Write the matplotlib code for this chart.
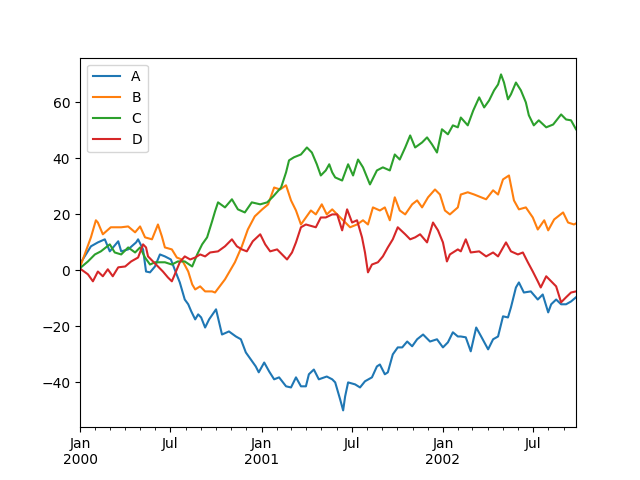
import numpy as np
import pandas as pd
import matplotlib
matplotlib.use('Agg')
import matplotlib.pyplot as plt
import matplotlib.dates as mdates

start = pd.Timestamp('2000-01-01')
end = start + pd.Timedelta(days=999)

# values, days counted from 2000-01-01
a_days = [0, 2, 22, 36, 50, 60, 77, 83, 97, 113, 117, 127, 133, 141, 151, 161, 171, 183, 193, 201,
          211, 218, 224, 232, 238, 244, 252, 260, 274, 286, 300, 314, 324, 334, 344, 354, 360, 371,
          381, 391, 401, 415, 425, 435, 445, 455, 461, 471, 481, 497, 508, 514, 524, 530, 534, 540,
          554, 564, 574, 588, 598, 604, 614, 620, 630, 640, 649, 659, 669, 679, 691, 705, 719, 731,
          741, 751, 761, 767, 777, 787, 798, 808, 822, 832, 842, 852, 862, 868, 878, 884, 894, 908,
          922, 932, 943, 949, 959, 969, 979, 989, 999]
a_vals = [1.1, 2.9, 8.6, 10.0, 11.1, 6.8, 10.4, 6.8, 7.5, 10.0, 11.1, 7.5, -0.4, -0.7, 1.4, 5.7, 5.0,
          3.9, -0.7, -4.3, -10.4, -12.1, -14.6, -17.5, -15.7, -16.8, -20.4, -17.5, -13.9, -22.9,
          -21.8, -23.6, -24.6, -29.3, -31.8, -34.3, -36.4, -32.9, -36.1, -38.9, -38.2, -41.4, -41.8,
          -38.2, -41.4, -41.4, -37.1, -35.4, -38.9, -37.9, -38.9, -40.0, -46.1, -50.0, -45.0, -40.0,
          -40.7, -41.8, -39.6, -38.2, -34.3, -33.6, -37.1, -36.4, -30.0, -27.5, -27.5, -25.4, -27.1,
          -24.6, -22.9, -25.4, -24.6, -27.5, -25.7, -22.1, -23.6, -23.6, -23.9, -28.9, -20.4, -23.6,
          -28.2, -24.6, -23.6, -16.4, -16.8, -13.2, -6.1, -4.3, -7.9, -7.5, -10.4, -8.6, -15.0,
          -12.1, -10.4, -12.1, -12.1, -11.1, -9.6]

b_days = [0, 2, 22, 32, 36, 46, 62, 83, 97, 111, 121, 131, 145, 157, 165, 171, 185, 195, 205, 218,
          226, 232, 242, 252, 266, 272, 292, 312, 326, 338, 352, 367, 379, 391, 403, 415, 425, 435,
          445, 455, 465, 475, 487, 497, 508, 518, 530, 544, 558, 570, 580, 590, 604, 614, 624, 634,
          644, 655, 669, 679, 689, 701, 715, 725, 735, 745, 761, 767, 781, 794, 808, 818, 832, 842,
          852, 864, 874, 884, 898, 912, 922, 935, 943, 955, 973, 983, 995, 999]
b_vals = [1.1, 2.1, 11.8, 17.9, 17.1, 12.9, 15.4, 15.4, 15.7, 13.6, 15.7, 11.8, 11.1, 16.4, 12.1,
          8.2, 7.5, 4.6, 3.9, -0.4, -5.0, -6.8, -5.7, -7.5, -7.5, -7.9, -3.2, 2.9, 8.6, 14.6, 19.3,
          21.8, 23.6, 29.6, 28.9, 30.4, 25.0, 21.4, 16.4, 18.9, 21.4, 20.0, 23.6, 20.0, 21.8, 20.0,
          17.9, 15.4, 16.4, 17.9, 16.4, 22.5, 21.4, 22.5, 17.9, 26.1, 21.4, 20.0, 23.6, 25.0, 22.5,
          26.1, 28.9, 27.1, 21.4, 20.0, 22.5, 27.1, 27.9, 27.1, 26.1, 25.4, 28.6, 27.1, 32.5, 33.9,
          25.0, 21.8, 22.5, 18.9, 14.6, 17.9, 14.3, 18.2, 20.7, 17.1, 16.4, 16.8]

c_days = [0, 2, 16, 30, 42, 60, 70, 83, 97, 111, 121, 131, 141, 151, 171, 185, 197, 211, 226, 236,
          246, 256, 266, 272, 278, 292, 306, 318, 332, 346, 363, 377, 389, 405, 415, 421, 431, 445,
          457, 467, 477, 485, 495, 502, 508, 514, 528, 540, 550, 560, 570, 584, 598, 610, 624, 634,
          644, 655, 665, 675, 689, 699, 709, 719, 729, 741, 751, 761, 767, 781, 792, 804, 814, 824,
          834, 842, 848, 854, 862, 868, 878, 888, 898, 904, 914, 924, 939, 953, 969, 979, 989, 999]
c_vals = [0.4, 1.1, 3.2, 5.7, 6.8, 9.3, 6.4, 5.7, 8.2, 6.4, 8.2, 4.6, 2.1, 2.9, 2.9, 2.1, 3.2, 3.2,
          1.4, 5.7, 9.3, 11.8, 17.5, 21.1, 24.3, 22.5, 25.4, 21.8, 20.7, 24.3, 23.6, 24.3, 26.4,
          29.6, 35.0, 39.3, 40.4, 41.4, 43.9, 42.1, 37.9, 33.9, 35.7, 37.9, 35.0, 33.2, 32.1, 37.9,
          33.9, 39.6, 36.8, 30.7, 35.7, 36.8, 35.7, 41.4, 39.6, 43.9, 48.2, 43.9, 45.7, 47.5, 45.0,
          42.1, 50.4, 48.6, 51.8, 51.1, 54.6, 51.8, 57.1, 61.8, 58.2, 60.7, 64.3, 66.4, 70.0, 67.1,
          61.1, 62.9, 67.1, 64.3, 60.0, 55.4, 51.8, 53.6, 51.1, 52.1, 55.7, 53.9, 53.6, 50.4]

d_days = [0, 2, 16, 26, 36, 46, 56, 66, 77, 91, 103, 117, 127, 133, 137, 157, 167, 177, 185, 191,
          201, 211, 222, 232, 242, 252, 262, 278, 292, 306, 316, 326, 336, 348, 363, 373, 383, 397,
          417, 427, 435, 445, 455, 475, 485, 495, 508, 518, 528, 538, 548, 558, 568, 574, 580, 588,
          600, 610, 620, 630, 640, 655, 665, 675, 685, 699, 711, 721, 731, 739, 745, 761, 767, 777,
          787, 804, 818, 832, 842, 858, 868, 882, 892, 902, 912, 922, 928, 939, 949, 959, 969, 979,
          989, 999]
d_vals = [0.4, 0.4, -1.4, -3.9, -0.4, -2.1, 0.4, -2.1, 1.1, 1.4, 3.2, 4.6, 9.3, 8.2, 5.0, 1.4,
          -0.4, -2.5, -3.9, -1.4, 2.9, 5.0, 3.9, 4.6, 5.7, 5.0, 6.4, 6.8, 8.6, 11.1, 8.6, 7.5, 6.8,
          10.4, 12.9, 9.3, 6.8, 7.5, 3.9, 6.4, 10.0, 15.4, 16.4, 15.4, 18.9, 18.9, 20.0, 20.0, 14.3,
          21.8, 17.1, 17.9, 11.8, 6.4, -0.7, 2.1, 2.9, 5.0, 8.2, 11.1, 15.4, 12.9, 11.1, 11.8, 12.9,
          10.0, 17.1, 14.3, 10.0, 3.2, 5.7, 7.5, 6.8, 11.1, 6.4, 6.8, 5.0, 6.4, 5.0, 10.0, 6.8, 5.7,
          6.4, 2.9, -0.4, -3.9, -6.1, -2.1, -3.9, -5.7, -11.4, -9.6, -7.9, -7.5]

series = [('A', a_days, a_vals), ('B', b_days, b_vals),
          ('C', c_days, c_vals), ('D', d_days, d_vals)]

fig, ax = plt.subplots(figsize=(6.4, 4.8), dpi=100)
for name, days, vals in series:
    dates = start + pd.to_timedelta(days, unit='D')
    ax.plot(dates, vals, label=name)

ax.set_xlim(start, end)
ax.xaxis.set_major_locator(mdates.MonthLocator(bymonth=[1, 7]))
ax.xaxis.set_minor_locator(mdates.MonthLocator())


def fmt(x, pos):
    d = mdates.num2date(x)
    if d.month == 1:
        return d.strftime('%b') + '\n' + str(d.year)
    return d.strftime('%b')


ax.xaxis.set_major_formatter(plt.FuncFormatter(fmt))
ax.legend(loc='upper left')
fig.savefig('out.png', dpi=100)
